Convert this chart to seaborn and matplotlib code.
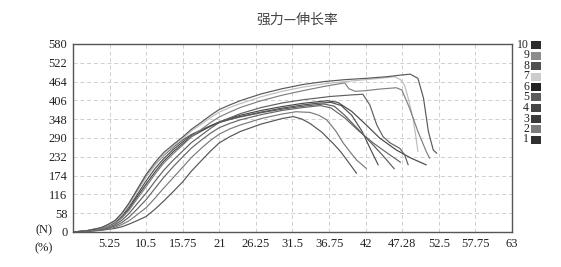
import matplotlib
matplotlib.use("Agg")
import matplotlib.pyplot as plt
from matplotlib.patches import Rectangle
import seaborn as sns
import pandas as pd

# ---- data (strain %, force N) ----
labels = ["1", "2", "3", "4", "5", "6", "7", "8", "9", "10"]

x1 = [0, 2, 4, 5, 6, 7, 8, 9, 10.5, 11.75, 13, 14.4, 15.75, 17, 18.5, 19.75, 21, 22.5, 24, 27, 30, 31.6, 32.8, 34, 35.7, 37.3, 38.4, 39.3, 40.7]
y1 = [0, 2, 5, 8, 11, 16, 24, 33, 48, 70, 95, 125, 155, 188, 222, 250, 275, 294, 310, 333, 350, 356, 349, 335, 308, 274, 248, 222, 181]

x2 = [0, 2, 4, 5, 6, 7, 8, 9, 10.5, 11.75, 13, 14.4, 15.75, 17, 18.5, 19.75, 21, 22.5, 24, 27, 30, 32, 34, 35.3, 36.4, 37.7, 38.8, 39.8, 40.7, 42.1]
y2 = [0, 2, 6, 10, 14, 23, 34, 50, 75, 104, 135, 168, 200, 230, 260, 283, 302, 318, 330, 350, 364, 371, 369, 360, 346, 312, 274, 246, 222, 196]

x3 = [0, 2, 4, 5, 6, 7, 8, 9, 10.5, 11.75, 13, 14.4, 15.75, 17, 18.5, 19.75, 21, 22.5, 24, 27, 30, 33, 35, 37, 38.5, 40, 41.5, 42.7, 43.8]
y3 = [0, 4, 12, 20, 30, 50, 76, 108, 158, 195, 226, 255, 278, 298, 314, 327, 338, 348, 356, 370, 382, 392, 397, 400, 390, 360, 310, 255, 207]

x4 = [0, 2, 4, 5, 6, 7, 8, 9, 10.5, 11.75, 13, 14.4, 15.75, 17, 18.5, 19.75, 21, 22.5, 24, 27, 30, 33, 36, 37.5, 39, 41, 43, 44.5, 46.1]
y4 = [0, 4, 13, 22, 34, 56, 85, 120, 172, 207, 236, 262, 284, 301, 316, 328, 338, 347, 355, 368, 379, 388, 395, 388, 360, 315, 270, 235, 195]

x5 = [0, 2, 4, 5, 6, 7, 8, 9, 10.5, 11.75, 13, 14.4, 15.75, 17, 18.5, 19.75, 21, 22.5, 24, 27, 30, 33, 35.5, 37, 39, 41, 43, 45, 47]
y5 = [0, 2, 7, 12, 18, 29, 45, 66, 100, 134, 168, 202, 232, 259, 285, 305, 322, 335, 346, 362, 375, 384, 390, 383, 352, 312, 276, 245, 215]

x6 = [0, 2, 4, 5, 6, 7, 8, 9, 10.5, 11.75, 13, 14.4, 15.75, 17, 18.5, 19.75, 21, 22.5, 24, 27, 30, 33, 36.5, 38, 40, 42, 44, 46.4, 48.5, 50.7]
y6 = [0, 3, 11, 18, 28, 46, 70, 102, 148, 185, 218, 248, 272, 294, 312, 327, 340, 351, 360, 375, 387, 397, 405, 400, 372, 332, 290, 253, 228, 207]

x7 = [0, 2, 4, 5, 6, 7, 8, 9, 10.5, 11.75, 13, 14.4, 15.75, 17, 18.5, 19.75, 21, 22.5, 24, 27, 30, 33, 36, 39, 42, 44, 46.2, 47.0, 47.6, 48.2, 48.8, 49.2, 49.5]
y7 = [0, 4, 12, 20, 32, 53, 82, 117, 170, 206, 238, 265, 288, 312, 334, 353, 370, 384, 396, 417, 434, 447, 457, 464, 470, 474, 479, 470, 452, 405, 350, 295, 248]

x8 = [0, 2, 4, 5, 6, 7, 8, 9, 10.5, 11.75, 13, 14.4, 15.75, 17, 18.5, 19.75, 21, 22.5, 24, 27, 30, 33, 36.9, 40, 41.6, 42.6, 43.6, 44.5, 45.5, 46.9, 47.6, 48.1]
y8 = [0, 3, 9, 15, 22, 36, 56, 82, 120, 156, 190, 222, 250, 276, 300, 320, 338, 352, 365, 384, 398, 408, 418, 423, 425, 392, 330, 294, 275, 258, 238, 207]

x9 = [0, 2, 4, 5, 6, 7, 8, 9, 10.5, 11.75, 13, 14.4, 15.75, 17, 18.5, 19.75, 21, 22.5, 24, 27, 30, 33, 36, 39, 39.6, 40.5, 42, 44, 46.4, 47.2, 48.3, 49.5, 50.7, 51.2]
y9 = [0, 3, 10, 17, 26, 43, 66, 96, 140, 178, 212, 242, 268, 294, 318, 338, 355, 370, 384, 405, 422, 436, 449, 460, 442, 434, 436, 441, 445, 438, 382, 310, 248, 227]

x10 = [0, 2, 4, 5, 6, 7, 8, 9, 10.5, 11.75, 13, 14.4, 15.75, 17, 18.5, 19.75, 21, 22.5, 24, 27, 30, 33, 36, 39, 42, 45, 47, 48.4, 49.5, 50.3, 51.0, 51.7, 52.2]
y10 = [0, 4, 13, 23, 35, 58, 88, 124, 178, 214, 245, 270, 293, 317, 340, 360, 378, 392, 405, 426, 442, 455, 464, 470, 474, 479, 484, 487, 474, 413, 310, 253, 243]

xs = [x1, x2, x3, x4, x5, x6, x7, x8, x9, x10]
ys = [y1, y2, y3, y4, y5, y6, y7, y8, y9, y10]

xticks = [0, 5.25, 10.5, 15.75, 21, 26.25, 31.5, 36.75, 42, 47.25, 52.5, 57.75, 63]
xticklabels = ["", "5.25", "10.5", "15.75", "21", "26.25", "31.5", "36.75", "42", "47.28", "52.5", "57.75", "63"]
yticks = [0, 58, 116, 174, 232, 290, 348, 406, 464, 522, 580]
title = "强力—伸长率"

# ---- styles ----
line_colors = ["#555555", "#7a7a7a", "#4e4e4e", "#5a5a5a", "#666666",
               "#474747", "#bdbdbd", "#606060", "#808080", "#595959"]
legend_colors = ["#303030", "#7c7c7c", "#3a3a3a", "#444444", "#5c5c5c",
                 "#222222", "#cccccc", "#505050", "#8c8c8c", "#2c2c2c"]

rows = []
for lab, xx, yy in zip(labels, xs, ys):
    for i, (a, b) in enumerate(zip(xx, yy)):
        rows.append({"curve": lab, "order": i, "strain": a, "force": b})
df = pd.DataFrame(rows)

sns.set_style("white")
plt.rcParams["font.family"] = ["Liberation Serif", "Noto Sans CJK SC", "DejaVu Sans"]

W, H = 561, 267
fig = plt.figure(figsize=(W / 100, H / 100), dpi=100)
ax = fig.add_axes([73 / W, 1 - 232 / H, (512 - 73) / W, (232 - 44) / H])

sns.lineplot(data=df, x="strain", y="force", hue="curve", hue_order=labels,
             palette=dict(zip(labels, line_colors)), sort=False, estimator=None,
             linewidth=0.85, legend=False, ax=ax)

ax.set_xlim(0, 63)
ax.set_ylim(0, 580)
ax.set_xticks(xticks)
ax.set_xticklabels(xticklabels)
ax.set_yticks(yticks)
ax.set_xlabel("")
ax.set_ylabel("")
ax.tick_params(axis="both", length=0, labelsize=9, colors="#222222", pad=4)
ax.grid(True, color="#cfcfcf", linestyle=(0, (4, 3)), linewidth=0.7)
for s in ax.spines.values():
    s.set_visible(True)
    s.set_color("#555555")
    s.set_linewidth(1.0)

fig.text(297 / W, 1 - 20 / H, title, ha="center", va="center", fontsize=10,
         color="#444444", family=["Noto Sans CJK SC", "DejaVu Sans"])
fig.text(44 / W, 1 - 230 / H, "(N)", ha="center", va="center", fontsize=9, color="#222222")
fig.text(44 / W, 1 - 248 / H, "(%)", ha="center", va="center", fontsize=9, color="#222222")

# legend: label right-aligned, square swatch to its right, 10 at top
for i, (lab, col) in enumerate(zip(labels[::-1], legend_colors[::-1])):
    yc = 45 + i * 10.5
    fig.text(529 / W, 1 - yc / H, lab, ha="right", va="center", fontsize=8.5, color="#222222")
    fig.patches.append(Rectangle((531 / W, 1 - (yc + 4) / H), 10 / W, 8 / H,
                                 transform=fig.transFigure, facecolor=col, edgecolor="none"))

fig.savefig("out.png", dpi=100)
